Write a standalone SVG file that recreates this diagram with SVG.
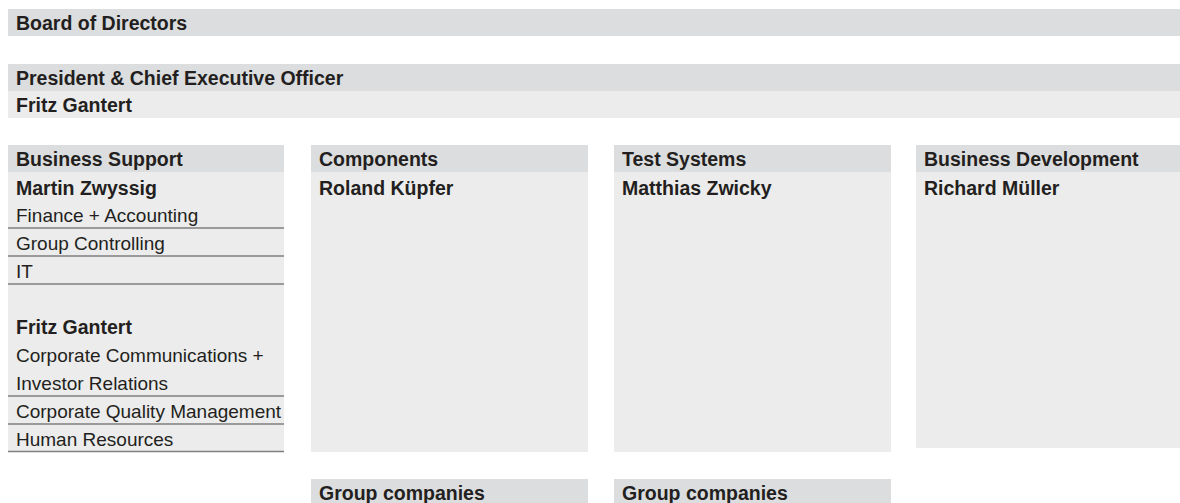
<svg xmlns="http://www.w3.org/2000/svg" width="1180" height="503" viewBox="0 0 1180 503">
  <style>
    .hd { fill: #dcdddf; }
    .bd { fill: #ececec; }
    .rule { stroke: #7f7f7f; stroke-width: 1.6; fill: none; }
    text { font-family: "Liberation Sans", Arial, sans-serif; font-size: 19px; fill: #231f20; }
    .b { font-weight: bold; font-size: 19.5px; }
  </style>
  <rect width="1180" height="503" fill="#ffffff"/>

  <!-- Top level -->
  <g id="board">
    <rect class="hd" x="8" y="9" width="1172" height="27"/>
    <text class="b" x="16" y="30">Board of Directors</text>
  </g>

  <g id="ceo">
    <rect class="hd" x="8" y="64" width="1172" height="27"/>
    <rect class="bd" x="8" y="91" width="1172" height="27"/>
    <text class="b" x="16" y="84.5">President &amp; Chief Executive Officer</text>
    <text class="b" x="16" y="112">Fritz Gantert</text>
  </g>

  <!-- Divisions -->
  <g id="business-support">
    <rect class="hd" x="8" y="145" width="276" height="27"/>
    <rect class="bd" x="8" y="172" width="276" height="280"/>
    <text class="b" x="16" y="166">Business Support</text>
    <text class="b" x="16" y="194.5">Martin Zwyssig</text>
    <text x="16" y="222">Finance + Accounting</text>
    <text x="16" y="250">Group Controlling</text>
    <text x="16" y="278">IT</text>
    <text class="b" x="16" y="334">Fritz Gantert</text>
    <text x="16" y="362">Corporate Communications +</text>
    <text x="16" y="390">Investor Relations</text>
    <text x="16" y="418">Corporate Quality Management</text>
    <text x="16" y="446">Human Resources</text>
    <path class="rule" d="M8 228H284M8 256H284M8 284H284M8 396H284M8 424H284M8 451.5H284"/>
  </g>

  <g id="components">
    <rect class="hd" x="311" y="145" width="277" height="27"/>
    <rect class="bd" x="311" y="172" width="277" height="280"/>
    <text class="b" x="319" y="166">Components</text>
    <text class="b" x="319" y="194.5">Roland Küpfer</text>
  </g>

  <g id="test-systems">
    <rect class="hd" x="614" y="145" width="277" height="27"/>
    <rect class="bd" x="614" y="172" width="277" height="280"/>
    <text class="b" x="622" y="166">Test Systems</text>
    <text class="b" x="622" y="194.5">Matthias Zwicky</text>
  </g>

  <g id="business-development">
    <rect class="hd" x="916" y="145" width="264" height="27"/>
    <rect class="bd" x="916" y="172" width="264" height="276"/>
    <text class="b" x="924" y="166">Business Development</text>
    <text class="b" x="924" y="194.5">Richard Müller</text>
  </g>

  <!-- Subsidiaries -->
  <g id="group-companies-components">
    <rect class="hd" x="311" y="479" width="277" height="24"/>
    <text class="b" x="319" y="500">Group companies</text>
  </g>

  <g id="group-companies-test-systems">
    <rect class="hd" x="614" y="479" width="277" height="24"/>
    <text class="b" x="622" y="500">Group companies</text>
  </g>

  <g id="connectors"/>
</svg>
